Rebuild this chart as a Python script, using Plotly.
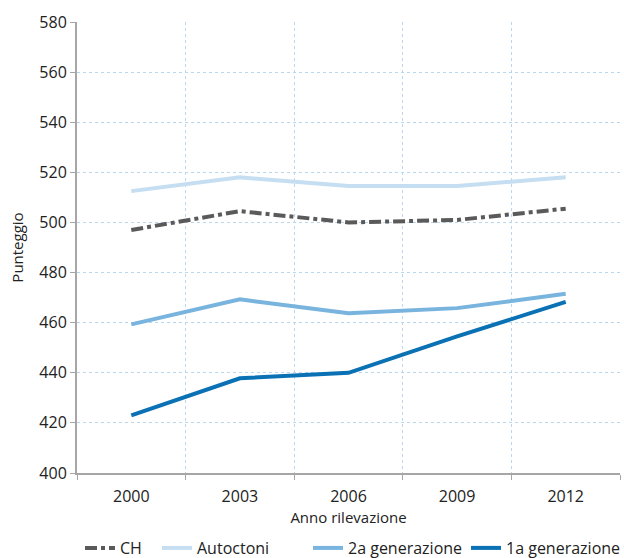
import plotly.graph_objects as go

years = ["2000", "2003", "2006", "2009", "2012"]
ch = [497, 504.5, 500, 501, 505.5]
autoctoni = [512.5, 518, 514.5, 514.5, 518]
gen2 = [459.3, 469.3, 463.8, 465.8, 471.5]
gen1 = [423, 437.8, 440, 454.5, 468.3]

series = [
    ("CH", ch, "#5a5a5a", "dashdot"),
    ("Autoctoni", autoctoni, "#c5def1", "solid"),
    ("2a generazione", gen2, "#78b4de", "solid"),
    ("1a generazione", gen1, "#0b71b5", "solid"),
]

L, R, T, B = 77, 4, 22, 85
W, H = 624, 558
pw = W - L - R
ph = H - T - B

font = "Open Sans, Noto Sans, DejaVu Sans, sans-serif"
legend_px = [85, 162, 313, 471]  # left edge of each legend symbol

fig = go.Figure()
layout_legends = {}
for i, (name, vals, color, dash) in enumerate(series):
    key = "legend" if i == 0 else f"legend{i+1}"
    fig.add_trace(go.Scatter(x=years, y=vals, name=name, mode="lines",
                             line=dict(color=color, width=4, dash=dash),
                             legend=key))
    layout_legends[key] = dict(
        orientation="h", x=(legend_px[i] - 5 - L) / pw, xanchor="left",
        y=-(548 - (T + ph)) / ph, yanchor="middle",
        font=dict(family=font, size=16, color="#222222"),
        bgcolor="rgba(0,0,0,0)", borderwidth=0, itemwidth=30,
    )

fig.update_layout(
    width=W, height=H,
    margin=dict(l=L, r=R, t=T, b=B, autoexpand=False),
    plot_bgcolor="white", paper_bgcolor="white",
    font=dict(family=font, size=16, color="#222222"),
    showlegend=True,
    **layout_legends,
)
fig.update_xaxes(
    type="category", tickson="boundaries", range=[-0.5, 4.5],
    showgrid=True, gridcolor="#b9d8ef", griddash="dot", gridwidth=1,
    showline=True, linecolor="#a6a6a6", linewidth=2,
    ticks="outside", ticklen=5, tickcolor="#a6a6a6",
    ticklabelstandoff=8, automargin=False,
    title=dict(text="Anno rilevazione", font=dict(size=15), standoff=0),
    zeroline=False,
)
fig.update_yaxes(
    range=[400, 580], dtick=20,
    showgrid=True, gridcolor="#b9d8ef", griddash="dot", gridwidth=1,
    showline=True, linecolor="#a6a6a6", linewidth=2,
    ticks="outside", ticklen=5, tickcolor="#a6a6a6",
    automargin=False,
    title=dict(text="Punteggio", font=dict(size=15), standoff=12),
    zeroline=False,
)
fig.write_html("out.html",
               config={"displayModeBar": False},
               post_script="document.body.style.margin='0';document.body.style.overflow='hidden';")
